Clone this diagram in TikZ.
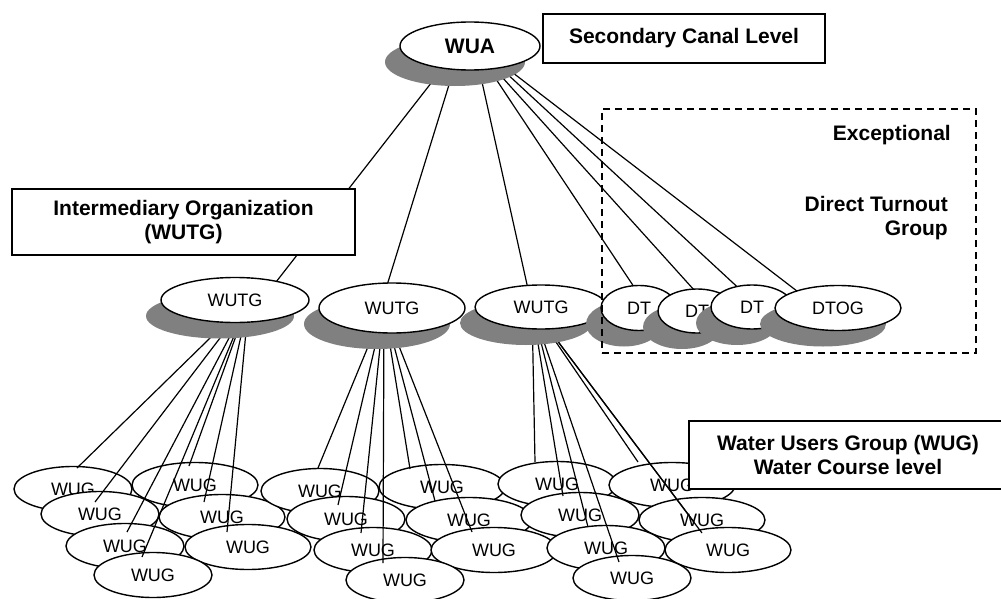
\documentclass[tikz,border=0pt]{standalone}
\usepackage{fontspec}
\setmainfont{Liberation Sans}
\usetikzlibrary{shapes.geometric,shadows,calc}
\definecolor{shadegray}{RGB}{128,128,128}
\pgfdeclarelayer{wuglayer}
\pgfdeclarelayer{linklayer}
\pgfsetlayers{wuglayer,linklayer,main}

\begin{document}
\begin{tikzpicture}[x=1pt,y=-1pt,
  unit/.style={ellipse, draw=black, line width=1.4pt, fill=white, inner sep=0pt,
    font=\fontsize{18}{20}\selectfont},
  shadowed/.style={unit, drop shadow={shadow xshift=-15pt, shadow yshift=-16pt,
    fill=shadegray, opacity=1, draw=none}},
  wuga/.style={unit, minimum width=118pt, minimum height=45pt},
  wugb/.style={unit, minimum width=126pt, minimum height=45pt},
  link/.style={line width=1.2pt},
  boldtext/.style={font=\fontsize{21}{24}\selectfont\bfseries},
  labelbox/.style={draw, line width=1.6pt, fill=white, align=center, inner sep=0pt, boldtext},
]
\useasboundingbox (0,0) rectangle (1001,599);

% upper levels: association, turnout groups and direct turnouts
\node[shadowed, minimum width=140pt, minimum height=48pt, boldtext] (wua) at (470,46) {WUA};
\node[shadowed, minimum width=148pt, minimum height=45pt] (wutgA) at (235,300) {WUTG};
\node[shadowed, minimum width=146pt, minimum height=50pt] (wutgB) at (392,308) {WUTG};
\node[shadowed, minimum width=132pt, minimum height=44pt] (wutgC) at (541,307) {WUTG};
\node[shadowed, minimum width=76pt, minimum height=45pt] (dtA) at (639,308) {DT};
\node[shadowed, minimum width=78pt, minimum height=44pt] (dtB) at (697,311) {DT};
\node[shadowed, minimum width=82pt, minimum height=44pt] (dtC) at (752,307) {DT};
\node[shadowed, minimum width=126pt, minimum height=45pt] (dtog) at (838,308) {DTOG};

% water users groups
\begin{pgfonlayer}{wuglayer}
  % left cluster
  \node[wuga] (l1) at (73,489) {WUG};
  \node[wugb] (l5) at (195,485) {WUG};
  \node[wuga] (l2) at (100,514) {WUG};
  \node[wugb] (l6) at (222,517) {WUG};
  \node[wuga] (l3) at (125,546) {WUG};
  \node[wugb] (l7) at (248,547) {WUG};
  \node[wuga] (l4) at (153,575) {WUG};
  % middle cluster
  \node[wuga] (m1) at (320,491) {WUG};
  \node[wugb] (m5) at (442,487) {WUG};
  \node[wuga] (m2) at (346,519) {WUG};
  \node[wugb] (m6) at (469,520) {WUG};
  \node[wuga] (m3) at (373,550) {WUG};
  \node[wugb] (m7) at (494,550) {WUG};
  \node[wuga] (m4) at (405,580) {WUG};
  % right cluster
  \node[wuga] (r1) at (557,484) {WUG};
  \node[wugb] (r5) at (672,485) {WUG};
  \node[wuga] (r2) at (580,515) {WUG};
  \node[wugb] (r6) at (702,520) {WUG};
  \node[wuga] (r3) at (606,548) {WUG};
  \node[wugb] (r7) at (728,550) {WUG};
  \node[wuga] (r4) at (632,578) {WUG};
\end{pgfonlayer}

% connectors
\begin{pgfonlayer}{linklayer}
  \draw[link] ($(wua)+(-10,0)$) -- ($(wutgA)+(27,0)$);
  \draw[link] ($(wua)+(-9,0)$) -- ($(wutgB)+(-12,0)$);
  \draw[link] ($(wua)+(4,0)$) -- ($(wutgC)+(-9,0)$);
  \draw[link] ($(wua)+(4,0)$) -- ($(dtA)+(9,0)$);
  \draw[link] ($(wua)+(4,0)$) -- ($(dtB)+(16,0)$);
  \draw[link] ($(wua)+(7,0)$) -- ($(dtC)+(7,0)$);
  \draw[link] ($(wua)+(8,0)$) -- ($(dtog)+(-19,0)$);

  \draw[link] ($(wutgA)+(14,0)$) -- ($(l1)+(4,-21)$);
  \draw[link] ($(wutgA)+(14,0)$) -- ($(l2)+(-5,-12)$);
  \draw[link] ($(wutgA)+(14,0)$) -- ($(l3)+(2,-14)$);
  \draw[link] ($(wutgA)+(14,0)$) -- ($(l4)+(-11,-18)$);
  \draw[link] ($(wutgA)+(14,0)$) -- ($(l5)+(-6,-19)$);
  \draw[link] ($(wutgA)+(14,0)$) -- ($(l6)+(-18,-15)$);
  \draw[link] ($(wutgA)+(14,0)$) -- ($(l7)+(-21,-15)$);

  \draw[link] ($(wutgB)+(-8,0)$) -- ($(m1)+(-2,-23)$);
  \draw[link] ($(wutgB)+(-8,0)$) -- ($(m2)+(-8,-14)$);
  \draw[link] ($(wutgB)+(-8,0)$) -- ($(m3)+(-12,-17)$);
  \draw[link] ($(wutgB)+(-8,0)$) -- ($(m4)+(-22,-17)$);
  \draw[link] ($(wutgB)+(-8,0)$) -- ($(m5)+(-32,-18)$);
  \draw[link] ($(wutgB)+(-8,0)$) -- ($(m6)+(-34,-19)$);
  \draw[link] ($(wutgB)+(-8,0)$) -- ($(m7)+(-22,-18)$);

  \draw[link] ($(wutgC)+(-9,0)$) -- ($(r1)+(-22,-22)$);
  \draw[link] ($(wutgC)+(-9,0)$) -- ($(r2)+(-17,-19)$);
  \draw[link] ($(wutgC)+(-9,0)$) -- ($(r3)+(-18,-21)$);
  \draw[link] ($(wutgC)+(-9,0)$) -- ($(r4)+(-13,-16)$);
  \draw[link] ($(wutgC)+(-9,0)$) -- ($(r5)+(-34,-23)$);
  \draw[link] ($(wutgC)+(-9,0)$) -- ($(r6)+(-8,2)$);
  \draw[link] ($(wutgC)+(-9,0)$) -- ($(r7)+(-26,-17)$);
\end{pgfonlayer}

% level labels
\node[labelbox, minimum width=282pt, minimum height=49pt] (canal) at (684,38.5) {Secondary Canal Level};
\node[labelbox, minimum width=343pt, minimum height=66pt] (inter) at (183.5,222) {Intermediary Organization\\(WUTG)};
\node[labelbox, minimum width=318pt, minimum height=68pt] (water) at (848,455) {Water Users Group (WUG)\\Water Course level};

% exceptional direct turnout group
\node[draw, dashed, dash pattern=on 7pt off 5pt, line width=1.4pt, minimum width=374pt,
  minimum height=244pt, inner sep=0pt] (dtgroup) at (789,231) {};
\node[boldtext, anchor=east, inner sep=0pt] (exc) at (951,135) {Exceptional};
\node[boldtext, anchor=east, align=right, inner sep=0pt] (dtg) at (948,218) {Direct Turnout\\Group};
\end{tikzpicture}
\end{document}
